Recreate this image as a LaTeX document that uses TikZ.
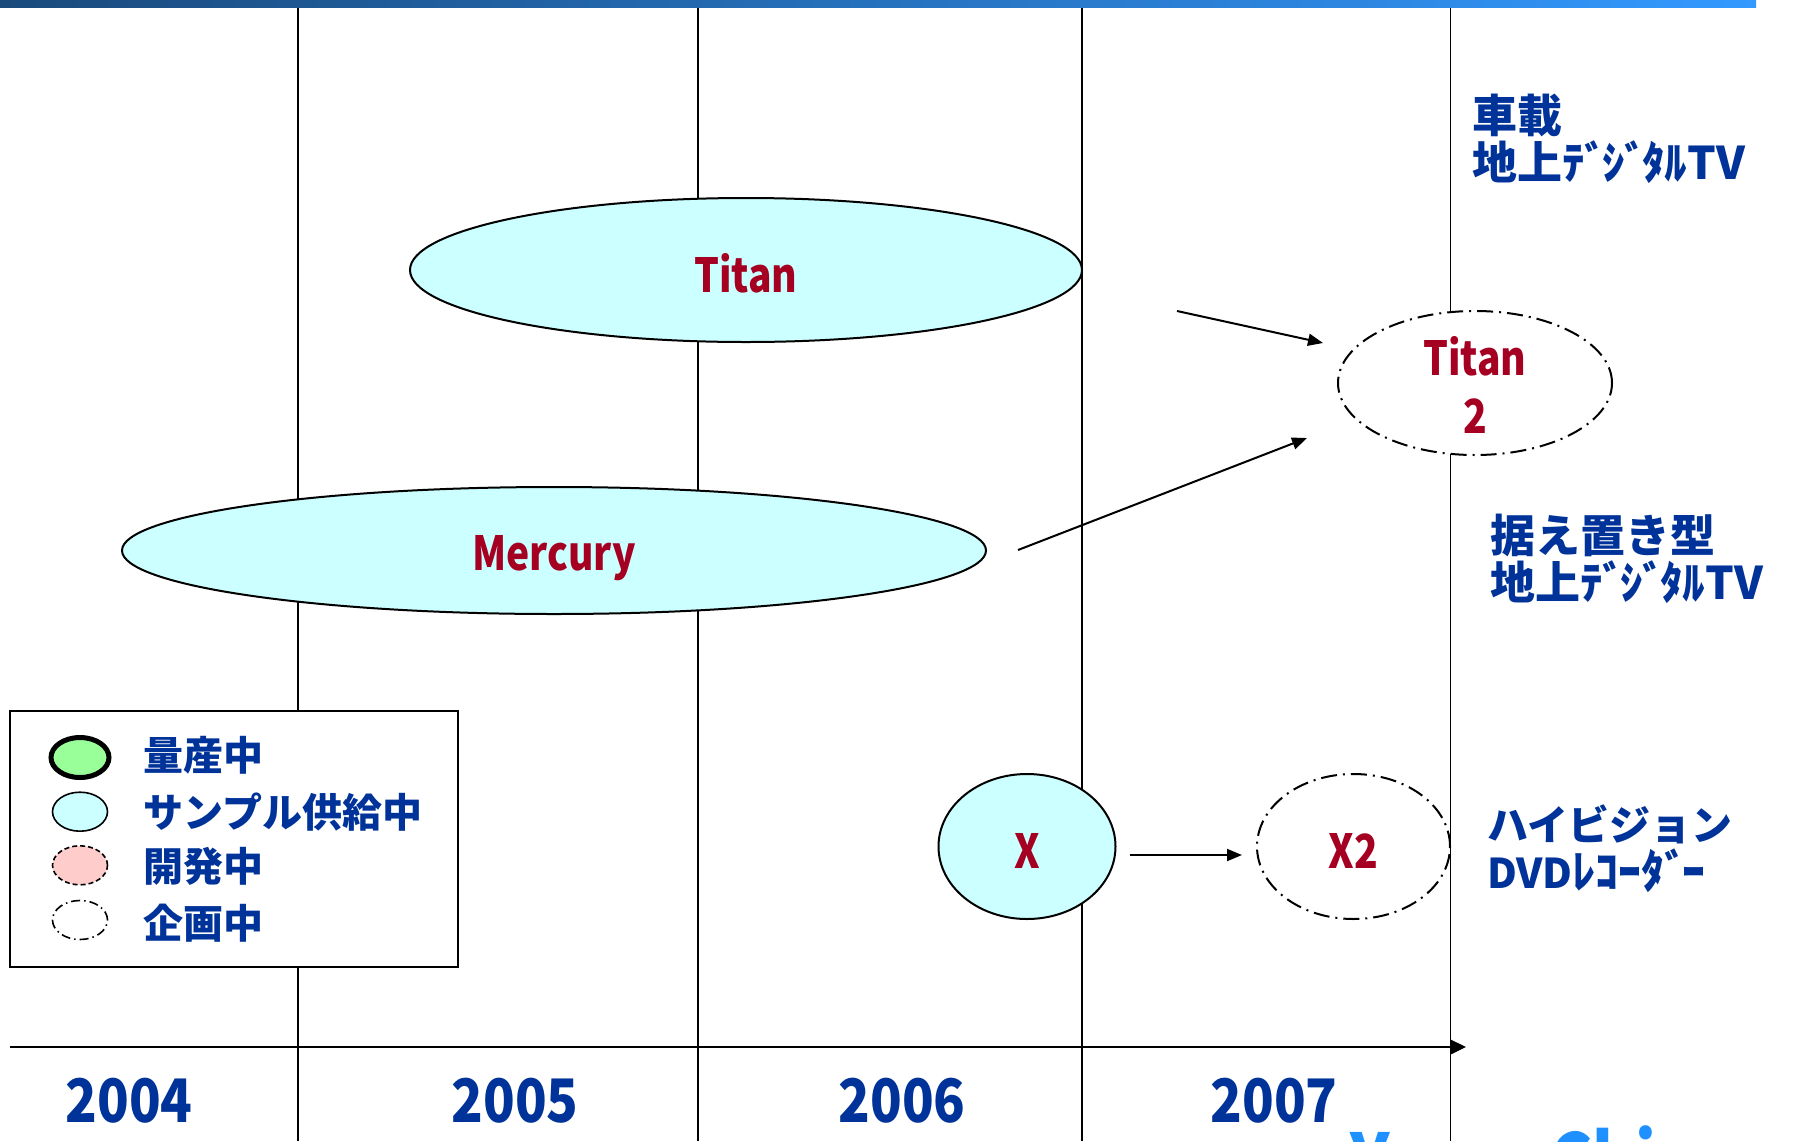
\documentclass[tikz,border=0pt]{standalone}
\usepackage{fontspec}
\setmainfont{Noto Sans CJK JP}
\newfontfamily\latfont{Noto Sans CJK JP}[FakeStretch=0.83]
\newfontfamily\yearfont{Noto Sans CJK JP}[FakeStretch=0.87]
\usetikzlibrary{shapes.geometric,arrows.meta}
\definecolor{cyanfill}{HTML}{CCFFFF}
\definecolor{greenfill}{HTML}{99FF99}
\definecolor{pinkfill}{HTML}{FFCCCC}
\definecolor{chipred}{HTML}{A50021}
\definecolor{labelblue}{HTML}{003399}
\definecolor{logoblue}{HTML}{1E90FF}
\definecolor{barleft}{HTML}{1A4A7C}
\definecolor{barright}{HTML}{3399FF}
\newcommand{\dk}{\kern-5pt\relax}
\tikzset{
  gridline/.style={line width=1.4pt, draw=black},
  axisline/.style={line width=2.4pt, -{Triangle[length=16pt,width=15pt]}},
  sample/.style={ellipse, draw, line width=2pt, fill=cyanfill, inner sep=0pt},
  planned/.style={ellipse, draw, line width=2pt, fill=white, inner sep=0pt,
    dash pattern=on 16pt off 6pt on 2pt off 6pt},
  chiplabel/.style={font=\latfont\bfseries\fontsize{47}{58}\selectfont, text=chipred},
  flow/.style={line width=2pt, -{Triangle[length=15pt,width=12pt]}},
  bluelabel/.style={text=labelblue, align=left, inner sep=0pt, anchor=base west},
  yearlabel/.style={text=labelblue, font=\yearfont\bfseries\fontsize{60}{60}\selectfont,
    inner sep=0pt, anchor=base},
  legtext/.style={text=labelblue, font=\bfseries\fontsize{40}{40}\selectfont,
    inner sep=0pt, anchor=base west},
  legmark/.style={ellipse, inner sep=0pt, minimum width=55pt, minimum height=39pt}
}
\begin{document}
\begin{tikzpicture}[x=1pt,y=-1pt]
\useasboundingbox (0,0) rectangle (1802,1141);
\clip (0,0) rectangle (1802,1141);
\fill[white] (0,0) rectangle (1802,1141);
% grid
\draw[gridline] (298,0) -- (298,1141);
\draw[gridline] (698,0) -- (698,1141);
\draw[gridline] (1082,0) -- (1082,1141);
\draw[gridline] (1450.5,0) -- (1450.5,1141);
\shade[left color=barleft, right color=barright] (0,0) rectangle (1756,7);
% axis
\draw[axisline] (10,1047) -- (1466,1047);
\node[yearlabel] (y2004) at (129,1122) {2004};
\node[yearlabel] (y2005) at (515,1122) {2005};
\node[yearlabel] (y2006) at (902,1122) {2006};
\node[yearlabel] (y2007) at (1274,1122) {2007};
% chips
\node[sample, chiplabel, minimum width=672pt, minimum height=144pt,
  text height=44pt, text depth=0pt] (titan) at (746,270) {Titan};
\node[sample, chiplabel, minimum width=864pt, minimum height=127pt,
  text height=39pt, text depth=0pt] (mercury) at (554,550.5) {Mercury};
\node[planned, chiplabel, align=center, minimum width=274pt, minimum height=144pt,
  text height=100pt, text depth=0pt] (titan2) at (1475,383) {Titan\\2};
\node[sample, chiplabel, minimum width=177pt, minimum height=145pt,
  text height=43pt, text depth=0pt] (x) at (1027,846.5) {X};
\node[planned, chiplabel, minimum width=193pt, minimum height=145pt,
  text height=43pt, text depth=0pt] (x2) at (1353.5,846.5) {X2};
% arrows
\coordinate (a1s) at (1177,311);
\coordinate (a1e) at (1323,343);
\coordinate (a2s) at (1018,550);
\coordinate (a2e) at (1307,438);
\coordinate (a3s) at (1129.5,855);
\coordinate (a3e) at (1242,855);
\draw[flow] (a1s) -- (a1e);
\draw[flow] (a2s) -- (a2e);
\draw[flow] (a3s) -- (a3e);
% right labels
\node[bluelabel, font=\bfseries\fontsize{45}{47}\selectfont] (car) at (1472,179)
  {車載\\地上ﾃﾞ\dk ｼﾞ\dk ﾀﾙTV};
\node[bluelabel, font=\bfseries\fontsize{45}{47}\selectfont] (home) at (1490,599)
  {据え置き型\\地上ﾃﾞ\dk ｼﾞ\dk ﾀﾙTV};
\node[bluelabel, font=\bfseries\fontsize{41}{48}\selectfont] (dvd) at (1487,888)
  {ハイビジョン\\DVD{\fontsize{46}{48}\selectfont ﾚｺｰﾀﾞ\dk ｰ}};
% legend
\node[draw, line width=1.5pt, fill=white, inner sep=0pt,
  minimum width=448pt, minimum height=256pt] (legend) at (234,839) {};
\node[legmark, draw, line width=5pt, fill=greenfill, minimum width=58pt,
  minimum height=40pt] (lg1) at (80,757.5) {};
\node[legmark, draw, line width=1.6pt, fill=cyanfill] (lg2) at (80,811.7) {};
\node[legmark, draw, line width=1.6pt, fill=pinkfill,
  dash pattern=on 5pt off 3pt] (lg3) at (80,865.3) {};
\node[legmark, draw, line width=1.6pt, fill=white,
  dash pattern=on 9pt off 4pt on 1.5pt off 4pt] (lg4) at (80,920) {};
\node[legtext] (lt1) at (143,770) {量産中};
\node[legtext] (lt2) at (143,827) {サンプル供給中};
\node[legtext] (lt3) at (143,881) {開発中};
\node[legtext] (lt4) at (143,938) {企画中};
% cut-off logo text at bottom
\node[font=\latfont\bfseries\fontsize{78}{78}\selectfont, text=logoblue,
  anchor=base west, inner sep=0pt] (logo) at (1350,1190) {Y\hspace{160pt}Chi};
\end{tikzpicture}
\end{document}
